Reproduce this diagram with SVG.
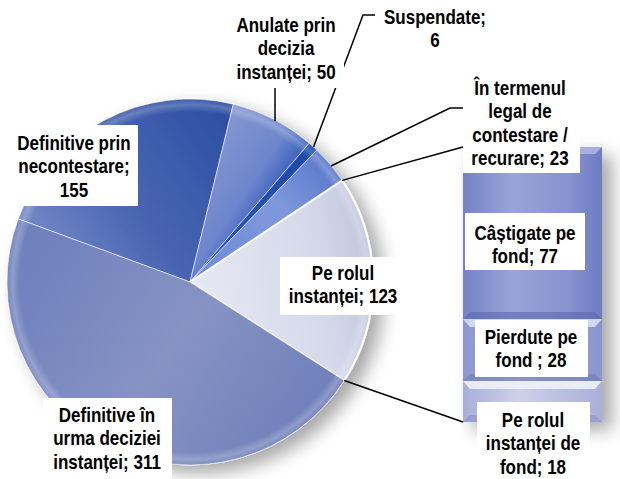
<svg xmlns="http://www.w3.org/2000/svg" width="620" height="479" viewBox="0 0 620 479">
<style>
.t{font-family:"Liberation Sans",Arial,sans-serif;font-weight:bold;font-size:21px;fill:#000;text-anchor:middle}
.box{fill:#fff}
.ln{fill:none;stroke:#000;stroke-width:1.5}
.sl{stroke:#fff;stroke-opacity:0.55;stroke-width:1}
</style>
<defs>
<filter id="sh" x="-20%" y="-20%" width="150%" height="150%">
<feGaussianBlur in="SourceAlpha" stdDeviation="9"/>
<feOffset dx="10" dy="8" result="b"/>
<feComponentTransfer><feFuncA type="linear" slope="0.35"/></feComponentTransfer>
<feMerge><feMergeNode/><feMergeNode in="SourceGraphic"/></feMerge>
</filter>
<linearGradient id="gPrin" gradientUnits="userSpaceOnUse" x1="220" y1="110" x2="40" y2="230">
<stop offset="0" stop-color="#2e50a4"/><stop offset="0.6" stop-color="#4a66b2"/><stop offset="1" stop-color="#6f84c4"/>
</linearGradient>
<linearGradient id="gAnul" gradientUnits="userSpaceOnUse" x1="240" y1="110" x2="300" y2="150">
<stop offset="0" stop-color="#8194d0"/><stop offset="0.7" stop-color="#6c85cc"/><stop offset="1" stop-color="#4466bf"/>
</linearGradient>
<linearGradient id="gSusp" gradientUnits="userSpaceOnUse" x1="200" y1="280" x2="315" y2="145">
<stop offset="0" stop-color="#2a58b8"/><stop offset="1" stop-color="#1c4aa8"/>
</linearGradient>
<linearGradient id="gTerm" gradientUnits="userSpaceOnUse" x1="200" y1="280" x2="335" y2="160">
<stop offset="0" stop-color="#6f8ad6"/><stop offset="0.6" stop-color="#7f98dc"/><stop offset="1" stop-color="#5475c8"/>
</linearGradient>
<linearGradient id="gRol" gradientUnits="userSpaceOnUse" x1="200" y1="290" x2="370" y2="260">
<stop offset="0" stop-color="#e6e8f2"/><stop offset="0.7" stop-color="#d4d8ea"/><stop offset="1" stop-color="#c2c7df"/>
</linearGradient>
<linearGradient id="gUrma" gradientUnits="userSpaceOnUse" x1="40" y1="260" x2="300" y2="440">
<stop offset="0" stop-color="#7081bd"/><stop offset="0.5" stop-color="#8793c3"/><stop offset="1" stop-color="#6f7fba"/>
</linearGradient>
<radialGradient id="gRim" gradientUnits="userSpaceOnUse" cx="190" cy="282" r="183">
<stop offset="0.93" stop-color="#fff" stop-opacity="0"/>
<stop offset="0.97" stop-color="#fff" stop-opacity="0.22"/>
<stop offset="1" stop-color="#fff" stop-opacity="0.05"/>
</radialGradient>
<linearGradient id="gBarA" x1="0" y1="0" x2="1" y2="0">
<stop offset="0" stop-color="#7582c6"/><stop offset="0.35" stop-color="#99a4d8"/><stop offset="0.75" stop-color="#8893cf"/><stop offset="1" stop-color="#6e7cc0"/>
</linearGradient>
<linearGradient id="gBarB" x1="0" y1="0" x2="1" y2="0">
<stop offset="0" stop-color="#8c96cf"/><stop offset="0.4" stop-color="#aab2de"/><stop offset="1" stop-color="#8a94ce"/>
</linearGradient>
<linearGradient id="gBarC" x1="0" y1="0" x2="1" y2="0">
<stop offset="0" stop-color="#a8aed8"/><stop offset="0.4" stop-color="#cdd1ea"/><stop offset="1" stop-color="#a9afd8"/>
</linearGradient>
</defs>
<rect width="620" height="479" fill="#fff"/>

<g id="pie" filter="url(#sh)">
<g id="slice-prin"><path class="sl" fill="url(#gPrin)" d="M190,282 L18.2,218.9 A183,183 0 0 1 233.3,104.2 Z"/></g>
<g id="slice-anulate"><path class="sl" fill="url(#gAnul)" d="M190,282 L233.3,104.2 A183,183 0 0 1 309.2,143.2 Z"/></g>
<g id="slice-suspendate"><path class="sl" fill="url(#gSusp)" d="M190,282 L309.2,143.2 A183,183 0 0 1 316.8,150.1 Z"/></g>
<g id="slice-termen"><path class="sl" fill="url(#gTerm)" d="M190,282 L316.8,150.1 A183,183 0 0 1 342.2,180.4 Z"/></g>
<g id="slice-rol"><path fill="url(#gRol)" stroke="#fff" stroke-width="2" d="M190,282 L342.2,180.4 A183,183 0 0 1 344.2,380.5 Z"/></g>
<g id="slice-urma"><path class="sl" fill="url(#gUrma)" d="M190,282 L344.2,380.5 A183,183 0 0 1 18.2,218.9 Z"/></g>
<circle cx="190" cy="282" r="183" fill="url(#gRim)"/>
</g>

<g id="bar" filter="url(#sh)">
<g id="bar-castigate">
<rect x="463" y="147" width="139" height="172" fill="url(#gBarA)"/>
<path d="M463,147 L602,147 L595,154 L470,154 Z" fill="#b4bce4" opacity="0.8"/>
<path d="M463,319 L602,319 L595,312 L470,312 Z" fill="#5b68b0" opacity="0.6"/>
</g>
<g id="bar-pierdute">
<rect x="463" y="319" width="139" height="62" fill="url(#gBarB)"/>
<path d="M463,319 L602,319 L595,327 L470,327 Z" fill="#dfe3f4" opacity="0.85"/>
<path d="M463,381 L602,381 L595,374 L470,374 Z" fill="#6e79b8" opacity="0.55"/>
</g>
<g id="bar-rol-fond">
<rect x="463" y="381" width="139" height="41" fill="url(#gBarC)"/>
<path d="M463,381 L602,381 L595,389 L470,389 Z" fill="#f0f2fa" opacity="0.9"/>
<path d="M463,422 L602,422 L595,415 L470,415 Z" fill="#8890c4" opacity="0.55"/>
</g>
</g>

<g id="connectors">
<path class="ln" d="M275,88 L275,121"/>
<path class="ln" d="M375,15 L363,15 L313.5,147"/>
<path class="ln" d="M463,108 L450,108 L331,166"/>
<path class="ln" d="M342.2,180.4 L463,147"/>
<path class="ln" d="M344.2,380.5 L463,422"/>
</g>

<g id="lbl-prin">
<rect class="box" x="8" y="125" width="130" height="81"/>
<text class="t" transform="translate(74,0) scale(0.81,1)"><tspan x="0" y="150">Definitive prin</tspan><tspan x="0" y="173.5">necontestare;</tspan><tspan x="0" y="197">155</tspan></text>
</g>
<g id="lbl-anulate">
<rect class="box" x="228" y="4" width="116" height="84"/>
<text class="t" transform="translate(286,0) scale(0.81,1)"><tspan x="0" y="32">Anulate prin</tspan><tspan x="0" y="55.5">decizia</tspan><tspan x="0" y="79">instanței; 50</tspan></text>
</g>
<g id="lbl-suspendate">
<rect class="box" x="376" y="0" width="118" height="56"/>
<text class="t" transform="translate(435,0) scale(0.81,1)"><tspan x="0" y="24">Suspendate;</tspan><tspan x="0" y="47.5">6</tspan></text>
</g>
<g id="lbl-termen">
<rect class="box" x="463" y="72" width="117" height="101"/>
<text class="t" transform="translate(520,0) scale(0.81,1)"><tspan x="0" y="95">În termenul</tspan><tspan x="0" y="118.5">legal de</tspan><tspan x="0" y="142">contestare /</tspan><tspan x="0" y="165.5">recurare; 23</tspan></text>
</g>
<g id="lbl-castigate">
<rect class="box" x="465" y="213" width="120" height="57"/>
<text class="t" transform="translate(525,0) scale(0.81,1)"><tspan x="0" y="240">Câștigate pe</tspan><tspan x="0" y="263">fond; 77</tspan></text>
</g>
<g id="lbl-rol">
<rect class="box" x="280" y="257" width="128" height="58"/>
<text class="t" transform="translate(343,0) scale(0.81,1)"><tspan x="0" y="280">Pe rolul</tspan><tspan x="0" y="303.5">instanței; 123</tspan></text>
</g>
<g id="lbl-pierdute">
<rect class="box" x="475" y="320" width="113" height="57"/>
<text class="t" transform="translate(531,0) scale(0.81,1)"><tspan x="0" y="344">Pierdute pe</tspan><tspan x="0" y="367.5">fond ; 28</tspan></text>
</g>
<g id="lbl-rol-fond">
<rect class="box" x="477" y="402" width="113" height="77"/>
<text class="t" transform="translate(533,0) scale(0.81,1)"><tspan x="0" y="427">Pe rolul</tspan><tspan x="0" y="450.5">instanței de</tspan><tspan x="0" y="474">fond; 18</tspan></text>
</g>
<g id="lbl-urma">
<rect class="box" x="43" y="398" width="129" height="81"/>
<text class="t" transform="translate(107,0) scale(0.81,1)"><tspan x="0" y="422">Definitive în</tspan><tspan x="0" y="445.5">urma deciziei</tspan><tspan x="0" y="469">instanței; 311</tspan></text>
</g>
</svg>
